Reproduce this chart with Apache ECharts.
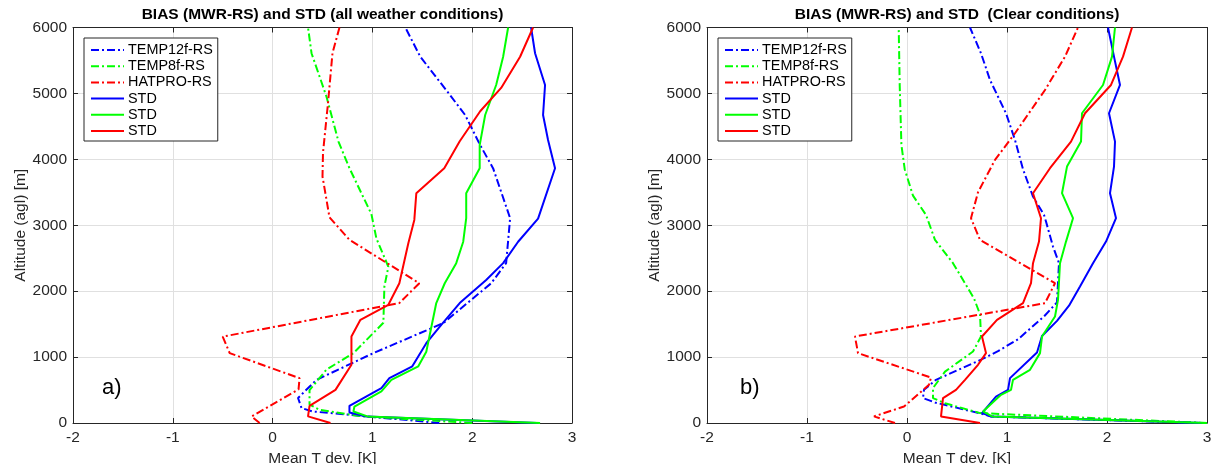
<!DOCTYPE html>
<html><head><meta charset="utf-8">
<script src="https://cdn.jsdelivr.net/npm/echarts/dist/echarts.min.js"></script>
<style>html,body{margin:0;padding:0;background:#fff}#c{width:1212px;height:464px}</style>
</head><body><div id="c"></div>
<script>
// ---- Data: [mean T deviation (K), altitude (m)] ----
// Panel a) all weather conditions
const aTemp12Bias = [[1.67,0],[0.40,175],[0.29,226],[0.255,380],[0.44,655],[1.01,1060],[1.71,1515],[2.19,2120],[2.34,2425],[2.38,3107],[2.21,3862],[2.08,4215],[1.93,4671],[1.74,5050],[1.48,5556],[1.33,6000]];
const aTemp8Bias = [[2.0,0],[0.9,100],[0.47,200],[0.37,280],[0.37,500],[0.54,810],[0.81,1060],[1.11,1520],[1.12,2070],[1.16,2370],[1.04,2800],[0.99,3170],[0.77,3865],[0.66,4270],[0.54,4950],[0.39,5610],[0.355,6000]];
const aHatproBias = [[-0.13,0],[-0.21,100],[0.26,510],[0.27,680],[-0.43,1060],[-0.50,1310],[1.27,1820],[1.47,2120],[0.77,2780],[0.57,3120],[0.50,3740],[0.505,4100],[0.555,4850],[0.60,5610],[0.67,6000]];
const aTemp12Std = [[2.65,0],[0.94,100],[0.77,160],[0.77,260],[1.09,530],[1.17,680],[1.40,860],[1.54,1210],[1.69,1490],[1.875,1820],[2.14,2170],[2.31,2425],[2.46,2750],[2.66,3100],[2.83,3865],[2.76,4294],[2.71,4673],[2.73,5128],[2.63,5609],[2.59,6000]];
const aTemp8Std = [[2.68,0],[0.95,100],[0.81,175],[0.82,250],[1.09,480],[1.19,655],[1.46,860],[1.54,1080],[1.64,1820],[1.725,2120],[1.84,2425],[1.91,2750],[1.94,3107],[1.94,3485],[2.075,3865],[2.075,4215],[2.13,4673],[2.24,5128],[2.31,5556],[2.36,6000]];
const aHatproStd = [[0.58,0],[0.355,100],[0.37,260],[0.63,503],[0.79,883],[0.79,1312],[0.88,1565],[1.16,1793],[1.27,2121],[1.36,2727],[1.42,3081],[1.44,3485],[1.72,3865],[1.875,4274],[2.08,4729],[2.29,5083],[2.48,5556],[2.61,6000]];
// Panel b) clear conditions
const bTemp12Bias = [[2.95,0],[0.84,99],[0.72,150],[0.28,311],[0.16,378],[0.17,503],[0.29,655],[0.74,960],[0.91,1090],[1.11,1270],[1.37,1616],[1.50,1830],[1.52,2425],[1.46,2677],[1.39,3056],[1.37,3157],[1.26,3435],[1.16,3850],[1.08,4294],[0.99,4699],[0.83,5204],[0.74,5609],[0.63,6000]];
const bTemp8Bias = [[3.0,0],[0.73,150],[0.38,300],[0.26,378],[0.26,530],[0.38,780],[0.66,1084],[0.74,1312],[0.73,1650],[0.67,1890],[0.46,2425],[0.28,2778],[0.19,3157],[0.06,3450],[-0.023,3850],[-0.056,4220],[-0.073,5128],[-0.083,6000]];
const bHatproBias = [[-0.12,0],[-0.33,100],[-0.03,250],[0.22,580],[0.24,690],[-0.49,1060],[-0.52,1312],[1.38,1818],[1.48,2121],[0.73,2778],[0.64,3107],[0.71,3500],[0.88,3991],[1.08,4396],[1.38,5052],[1.58,5558],[1.71,6000]];
const bTemp12Std = [[2.95,0],[0.84,100],[0.75,150],[0.89,400],[1.01,503],[1.03,681],[1.30,1070],[1.35,1320],[1.50,1550],[1.62,1780],[1.73,2070],[1.86,2425],[1.99,2752],[2.09,3107],[2.03,3486],[2.07,3890],[2.08,4269],[2.02,4699],[2.13,5128],[2.07,5558],[2.01,6000]];
const bTemp8Std = [[3.0,0],[0.85,100],[0.76,175],[0.94,428],[1.04,503],[1.06,655],[1.23,807],[1.33,1060],[1.35,1312],[1.48,1616],[1.51,1868],[1.53,2425],[1.59,2752],[1.66,3107],[1.55,3486],[1.60,3890],[1.74,4269],[1.75,4699],[1.96,5128],[2.05,5558],[2.08,6000]];
const bHatproStd = [[0.73,0],[0.34,99],[0.36,378],[0.49,503],[0.58,655],[0.71,883],[0.79,1060],[0.75,1312],[0.90,1565],[1.16,1818],[1.24,2121],[1.26,2425],[1.32,2752],[1.34,3107],[1.26,3486],[1.43,3865],[1.64,4269],[1.78,4699],[2.04,5128],[2.16,5558],[2.25,6000]];

const legendNames = ['TEMP12f-RS','TEMP8f-RS','HATPRO-RS','STD (TEMP12f)','STD (TEMP8f)','STD (HATPRO)'];
const titles = ['BIAS (MWR-RS) and STD (all weather conditions)','BIAS (MWR-RS) and STD  (Clear conditions)'];
const panelLabels = ['a)','b)'];
const xName = 'Mean T dev. [K]';
const yName = 'Altitude (agl) [m]';

// ---- Styling ----
const FONT = '"Liberation Sans", Arial, Helvetica, sans-serif';
const AX = '#262626';
const GRIDC = '#e0e0e0';
const COLORS = ['#0000ff','#00ff00','#ff0000'];
const DASHDOT = [8,3,2,3];
const grids = [
  {left:73, top:27.5, width:499, height:395.5, outerBoundsMode:'none'},
  {left:707, top:27.5, width:500, height:395.5, outerBoundsMode:'none'}
];

const xAxes = [], yAxes = [];
grids.forEach((g, gi) => {
  xAxes.push({type:'value', gridIndex:gi, position:'bottom', min:-2, max:3, interval:1,
    name:xName, nameLocation:'middle', nameGap:16.5,
    nameTextStyle:{fontFamily:FONT, fontSize:15.5, color:AX},
    axisLine:{show:true, onZero:false, lineStyle:{color:AX, width:1}},
    axisTick:{show:true, inside:true, length:5, lineStyle:{color:AX}},
    axisLabel:{show:true, margin:7, fontFamily:FONT, fontSize:15.5, color:AX, showMinLabel:true, showMaxLabel:true, hideOverlap:false,
      formatter: v => String(v)},
    splitLine:{show:true, lineStyle:{color:GRIDC, width:1}}});
  xAxes.push({type:'value', gridIndex:gi, position:'top', min:-2, max:3, interval:1,
    axisLine:{show:true, onZero:false, lineStyle:{color:AX, width:1}},
    axisTick:{show:true, inside:true, length:5, lineStyle:{color:AX}},
    axisLabel:{show:false}, splitLine:{show:false}});
  yAxes.push({type:'value', gridIndex:gi, position:'left', min:0, max:6000, interval:1000,
    name:yName, nameLocation:'middle', nameGap:43,
    nameTextStyle:{fontFamily:FONT, fontSize:15.5, color:AX},
    axisLine:{show:true, onZero:false, lineStyle:{color:AX, width:1}},
    axisTick:{show:true, inside:true, length:5, lineStyle:{color:AX}},
    axisLabel:{show:true, margin:6, fontFamily:FONT, fontSize:15.5, color:AX, showMinLabel:true, showMaxLabel:true, hideOverlap:false,
      formatter: v => String(v)},
    splitLine:{show:true, lineStyle:{color:GRIDC, width:1}}});
  yAxes.push({type:'value', gridIndex:gi, position:'right', min:0, max:6000, interval:1000,
    axisLine:{show:true, onZero:false, lineStyle:{color:AX, width:1}},
    axisTick:{show:true, inside:true, length:5, lineStyle:{color:AX}},
    axisLabel:{show:false}, splitLine:{show:false}});
});

const panelData = [
  [aTemp12Bias, aTemp8Bias, aHatproBias, aTemp12Std, aTemp8Std, aHatproStd],
  [bTemp12Bias, bTemp8Bias, bHatproBias, bTemp12Std, bTemp8Std, bHatproStd]
];
const series = [];
panelData.forEach((arrs, gi) => {
  arrs.forEach((d, i) => {
    series.push({
      type:'line', name:legendNames[i], data:d,
      xAxisIndex:gi*2, yAxisIndex:gi*2,
      symbol:'none', smooth:false, clip:true, animation:false,
      color:COLORS[i%3],
      lineStyle:{color:COLORS[i%3], width:2, type: i<3 ? DASHDOT : 'solid'},
      z: 2 + i
    });
  });
});

const legendBase = {
  orient:'vertical', itemWidth:33, itemHeight:14, itemGap:2.2,
  padding:[5,5,3,6], backgroundColor:'#fff', borderColor:AX, borderWidth:1, borderRadius:0,
  selectedMode:false,
  itemStyle:{opacity:0, color:'transparent', borderWidth:0},
  data: legendNames.map(n => ({name:n})),
  formatter: n => n.indexOf('STD') === 0 ? 'STD' : n,
  textStyle:{fontFamily:FONT, fontSize:14.4, color:'#000', padding:[0,0,0,-1]}
};
const legends = [
  Object.assign({}, legendBase, {left:84, top:38}),
  Object.assign({}, legendBase, {left:718, top:38})
];

const graphics = [];
[[322.5,titles[0]],[957,titles[1]]].forEach(([x,t]) => {
  graphics.push({type:'text', x:x, y:15, silent:true,
    style:{text:t, align:'center', verticalAlign:'middle', fill:'#000', font:'bold 15.5px ' + FONT}});
});
[[102,panelLabels[0]],[740,panelLabels[1]]].forEach(([x,t]) => {
  graphics.push({type:'text', x:x, y:388, silent:true,
    style:{text:t, align:'left', verticalAlign:'middle', fill:'#000', font:'22px ' + FONT}});
});

const chart = echarts.init(document.getElementById('c'), null, {renderer:'canvas'});
chart.setOption({
  animation:false,
  backgroundColor:'#fff',
  grid:grids, xAxis:xAxes, yAxis:yAxes,
  legend:legends, series:series, graphic:graphics
});
</script></body></html>
